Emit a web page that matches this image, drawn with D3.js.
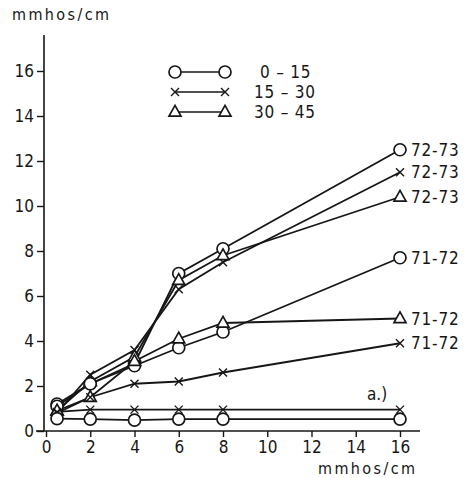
<!DOCTYPE html>
<html>
<head>
<meta charset="utf-8">
<script src="https://cdn.jsdelivr.net/npm/d3@7"></script>
<style>
  body { margin: 0; background: #fff; }
  text { font-family: "DejaVu Sans Condensed", "DejaVu Sans", sans-serif; fill: #161616; }
</style>
</head>
<body>
<div id="chart"></div>
<script>
// x values shared by every series (mmhos/cm)
const xValues = [0.5, 2, 4, 6, 8, 16];
const xTicks = [0, 2, 4, 6, 8, 10, 12, 14, 16];
const yTicks = [0, 2, 4, 6, 8, 10, 12, 14, 16];

// depth classes (legend)
const depths = ['0 – 15', '15 – 30', '30 – 45'];
const depthMarks = ['circle', 'cross', 'triangle'];

// series: marker, y values, year label
const circle7273 = [1.2, 2.1, 3.0, 7.0, 8.1, 12.5];
const cross7273 = [0.8, 2.5, 3.6, 6.3, 7.5, 11.5];
const triangle7273 = [0.9, 2.2, 3.3, 6.7, 7.8, 10.4];
const circle7172 = [1.1, 2.1, 2.9, 3.7, 4.4, 7.7];
const triangle7172 = [0.9, 1.5, 3.1, 4.1, 4.8, 5.0];
const cross7172 = [0.8, 1.5, 2.1, 2.2, 2.6, 3.9];
const crossBase = [0.85, 0.95, 0.95, 0.95, 0.95, 0.95];
const circleBase = [0.55, 0.53, 0.48, 0.53, 0.53, 0.53];

const series = [
    { mark: 'circle', values: circle7273, label: '72-73' },
    { mark: 'cross', values: cross7273, label: '72-73' },
    { mark: 'triangle', values: triangle7273, label: '72-73' },
    { mark: 'circle', values: circle7172, label: '71-72' },
    { mark: 'triangle', values: triangle7172, label: '71-72' },
    { mark: 'cross', values: cross7172, label: '71-72' },
    { mark: 'cross', values: crossBase, label: '' },
    { mark: 'circle', values: circleBase, label: '' }
];

const width = 467, height = 478;
const ink = '#161616';

const svg = d3.select('#chart').append('svg')
    .attr('width', width)
    .attr('height', height);

const x = d3.scaleLinear().domain([0, 16]).range([46, 400]);
const y = d3.scaleLinear().domain([0, 16]).range([431, 71]);

// axes
const yAxis = svg.append('g')
    .attr('transform', `translate(44,0)`)
    .call(d3.axisLeft(y).tickValues(yTicks).tickSize(7).tickPadding(3).tickFormat(d3.format('d')));
yAxis.select('.domain').remove();
yAxis.append('line')
    .attr('x1', 0).attr('x2', 0)
    .attr('y1', 35).attr('y2', y(0))
    .attr('stroke', ink).attr('stroke-width', 1.6);

const xAxis = svg.append('g')
    .attr('transform', `translate(0,${y(0)})`)
    .call(d3.axisBottom(x).tickValues(xTicks).tickSize(6).tickPadding(4).tickFormat(d3.format('d')));
xAxis.select('.domain').remove();
xAxis.append('line')
    .attr('x1', 36).attr('x2', 420)
    .attr('y1', 0).attr('y2', 0)
    .attr('stroke', ink).attr('stroke-width', 1.6);

svg.selectAll('.tick line').attr('stroke', ink).attr('stroke-width', 1.4);
svg.selectAll('.tick text')
    .style('font-size', '17px')
    .style('font-family', '"DejaVu Sans Condensed", sans-serif')
    .attr('fill', ink);

// axis titles
svg.append('text')
    .attr('x', 12).attr('y', 20)
    .style('font-size', '16px')
    .style('letter-spacing', '2.4px')
    .text('mmhos/cm');
svg.append('text')
    .attr('x', 318).attr('y', 474)
    .style('font-size', '16px')
    .style('letter-spacing', '2.4px')
    .text('mmhos/cm');

// marker drawing
function drawMark(g, type, cx, cy) {
    if (type === 'circle') {
        g.append('circle')
            .attr('cx', cx).attr('cy', cy).attr('r', 6)
            .attr('fill', '#fff').attr('stroke', ink).attr('stroke-width', 1.7);
    } else if (type === 'cross') {
        const s = 4;
        g.append('path')
            .attr('d', `M${cx - s},${cy - s}L${cx + s},${cy + s}M${cx - s},${cy + s}L${cx + s},${cy - s}`)
            .attr('stroke', ink).attr('stroke-width', 1.4).attr('fill', 'none');
    } else {
        const s = 6;
        g.append('path')
            .attr('d', `M${cx},${cy - s * 1.1}L${cx + s},${cy + s * 0.7}L${cx - s},${cy + s * 0.7}Z`)
            .attr('fill', '#fff').attr('stroke', ink).attr('stroke-width', 1.7);
    }
}

const line = d3.line().x(d => x(d[0])).y(d => y(d[1]));
const plot = svg.append('g');

series.forEach(s => {
    const pts = xValues.map((xv, i) => [xv, s.values[i]]);
    plot.append('path')
        .attr('d', line(pts))
        .attr('fill', 'none')
        .attr('stroke', ink)
        .attr('stroke-width', 1.8);
});
series.forEach(s => {
    const g = plot.append('g');
    xValues.forEach((xv, i) => drawMark(g, s.mark, x(xv), y(s.values[i])));
    if (s.label) {
        svg.append('text')
            .attr('x', x(16) + 11)
            .attr('y', y(s.values[s.values.length - 1]))
            .attr('dy', '0.36em')
            .style('font-size', '17px')
            .style('letter-spacing', '0.8px')
            .text(s.label);
    }
});

// legend
const legend = svg.append('g');
depths.forEach((d, i) => {
    const ly = 72 + i * 20;
    legend.append('line')
        .attr('x1', 175).attr('x2', 225)
        .attr('y1', ly).attr('y2', ly)
        .attr('stroke', ink).attr('stroke-width', 1.6);
    drawMark(legend, depthMarks[i], 175, ly);
    drawMark(legend, depthMarks[i], 225, ly);
    legend.append('text')
        .attr('x', i === 0 ? 260 : 254)
        .attr('y', ly)
        .attr('dy', '0.36em')
        .style('font-size', '17px')
        .style('letter-spacing', '0.8px')
        .text(d);
});

// panel label
svg.append('text')
    .attr('x', 367).attr('y', 400)
    .style('font-size', '17px')
    .text('a.)');
</script>
</body>
</html>
